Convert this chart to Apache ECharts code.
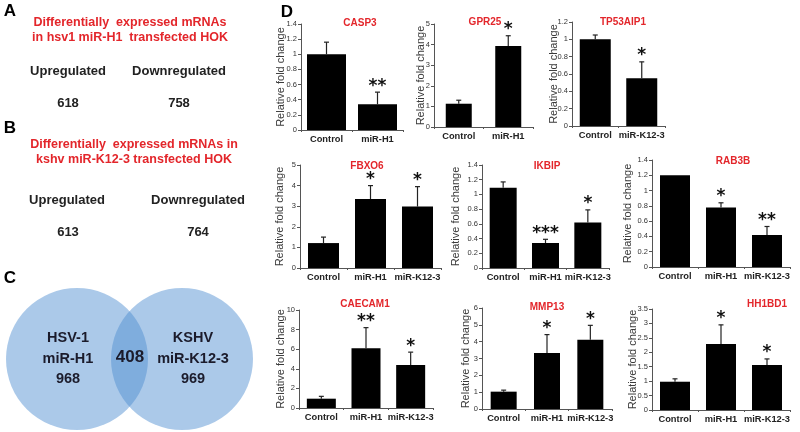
<!DOCTYPE html>
<html lang="en">
<head>
<meta charset="UTF-8">
<title>Differentially expressed mRNAs</title>
<script src="https://cdnjs.cloudflare.com/ajax/libs/echarts/6.0.0/echarts.min.js"></script>
<style>
    html, body { margin: 0; padding: 0; background: #fff; }
    #main { width: 800px; height: 432px; }
</style>
</head>
<body>
<div id="main"></div>
<script type="text/javascript">
    // A / B: number of differentially expressed mRNAs (up, down)
    const hsvCounts = [618, 758];
    const kshvCounts = [613, 764];
    // C: venn (HSV-1 only label, shared, KSHV label)
    const vennCounts = [968, 408, 969];

    // D: qPCR fold changes
    const genes = ['CASP3', 'GPR25', 'TP53AIP1', 'FBXO6', 'IKBIP', 'RAB3B', 'CAECAM1', 'MMP13', 'HH1BD1'];
    const groups = [
        ['Control', 'miR-H1'],
        ['Control', 'miR-H1'],
        ['Control', 'miR-K12-3'],
        ['Control', 'miR-H1', 'miR-K12-3'],
        ['Control', 'miR-H1', 'miR-K12-3'],
        ['Control', 'miR-H1', 'miR-K12-3'],
        ['Control', 'miR-H1', 'miR-K12-3'],
        ['Control', 'miR-H1', 'miR-K12-3'],
        ['Control', 'miR-H1', 'miR-K12-3']
    ];
    const foldMeans = [
        [1.0, 0.34],
        [1.13, 3.93],
        [1.0, 0.55],
        [1.21, 3.35, 2.98],
        [1.09, 0.34, 0.62],
        [1.2, 0.78, 0.42],
        [0.95, 6.1, 4.4],
        [1.03, 3.33, 4.12],
        [0.98, 2.29, 1.56]
    ];
    const foldErrors = [
        [0.16, 0.16],
        [0.17, 0.5],
        [0.05, 0.19],
        [0.29, 0.65, 0.97],
        [0.08, 0.05, 0.17],
        [0, 0.06, 0.11],
        [0.24, 2.1, 1.3],
        [0.09, 1.09, 0.85],
        [0.1, 0.66, 0.21]
    ];
    const signif = [
        ['', '**'],
        ['', '*'],
        ['', '*'],
        ['', '*', '*'],
        ['', '***', '*'],
        ['', '*', '**'],
        ['', '**', '*'],
        ['', '*', '*'],
        ['', '*', '*']
    ];
    const yMax = [1.4, 5, 1.2, 5, 1.4, 1.4, 10, 6, 3.5];
    const yStep = [0.2, 1, 0.2, 1, 0.2, 0.2, 2, 1, 0.5];

    // left, top, width, height, nameGap, barWidth, titleX, titleY
    const boxes = [
        [301, 24, 102, 106, 15, 39, 360, 24],
        [434, 24, 99, 103, 8, 26, 485, 23],
        [572, 22, 93, 104, 13, 31, 623, 23],
        [300, 165, 141, 103, 15, 31, 367, 167],
        [482, 165, 127, 103, 21, 27, 547, 167],
        [652, 160, 138, 107, 19, 30, 733, 162],
        [299, 310, 134, 98, 13, 29, 365, 305],
        [482, 308, 130, 101, 11, 26, 547, 308],
        [652, 309, 138, 101, 14, 30, 767, 305]
    ];

    const FONT = '"Liberation Sans", Arial, sans-serif';
    const RED = '#e3262b';
    const axisColor = '#555';

    const myChart = echarts.init(document.getElementById('main'));

    const grid = [], xAxis = [], yAxis = [], series = [], title = [];

    genes.forEach((gene, i) => {
        const b = boxes[i];
        grid.push({ left: b[0], top: b[1], width: b[2], height: b[3] });
        title.push({
            text: gene, left: b[6], top: b[7] - 6, textAlign: 'center', padding: 0,
            textStyle: { fontSize: 10, fontWeight: 'bold', color: RED, fontFamily: FONT }
        });
        xAxis.push({
            type: 'category', gridIndex: i, data: groups[i],
            axisLine: { show: true, lineStyle: { color: axisColor, width: 1 } },
            axisTick: { show: true, length: 2, lineStyle: { color: axisColor } },
            axisLabel: { interval: 0, margin: 5, fontSize: 9.3, fontWeight: 'bold', color: '#222', fontFamily: FONT,
                hideOverlap: false },
            splitLine: { show: false }
        });
        yAxis.push({
            type: 'value', gridIndex: i, min: 0, max: yMax[i], interval: yStep[i],
            name: 'Relative fold change', nameLocation: 'middle', nameGap: b[4], nameRotate: 90,
            nameMoveOverlap: false,
            nameTextStyle: { fontSize: 11, color: '#3a3a3a', fontFamily: FONT },
            axisLine: { show: true, lineStyle: { color: axisColor, width: 1 } },
            axisTick: { show: true, length: 3, lineStyle: { color: axisColor } },
            axisLabel: { fontSize: 7.5, color: '#333', margin: 4, fontFamily: FONT },
            splitLine: { show: false }
        });
        series.push({
            type: 'bar', xAxisIndex: i, yAxisIndex: i,
            data: foldMeans[i], barWidth: b[5],
            itemStyle: { color: '#000' },
            silent: true
        });
        // error bars + significance stars
        series.push({
            type: 'custom', xAxisIndex: i, yAxisIndex: i, clip: false, z: 3,
            data: foldMeans[i].map((m, j) => [j, m, foldErrors[i][j]]),
            renderItem: (params, api) => {
                const j = api.value(0), m = api.value(1), e = api.value(2);
                const base = api.coord([j, m]);
                const top = api.coord([j, m + e]);
                const children = [];
                if (e > 0) {
                    children.push({ type: 'line', shape: { x1: base[0], y1: base[1], x2: top[0], y2: top[1] },
                        style: { stroke: '#222', lineWidth: 1.2 } });
                    children.push({ type: 'line', shape: { x1: top[0] - 2.5, y1: top[1], x2: top[0] + 2.5, y2: top[1] },
                        style: { stroke: '#222', lineWidth: 1.2 } });
                }
                const s = signif[i][params.dataIndex];
                if (s) {
                    children.push({ type: 'text', x: top[0], y: top[1] - 6,
                        style: { text: s, fill: '#111', align: 'center', verticalAlign: 'middle',
                            font: 'bold 17px "DejaVu Sans", sans-serif' } });
                }
                return { type: 'group', children: children };
            }
        });
    });

    // panels A, B, C drawn as graphic elements
    function txt(x, y, s, size, color, weight) {
        return {
            type: 'text', x: x, y: y,
            style: { text: s, fill: color, align: 'center', verticalAlign: 'middle',
                font: (weight || 'bold') + ' ' + size + 'px ' + FONT }
        };
    }

    const graphic = [
        txt(287, 12, 'D', 17, '#000'),
        txt(10, 11, 'A', 17, '#000'),
        txt(130, 23, 'Differentially  expressed mRNAs', 12.5, RED),
        txt(130, 38, 'in hsv1 miR-H1  transfected HOK', 12.5, RED),
        txt(68, 71, 'Upregulated', 13, '#222'),
        txt(179, 71, 'Downregulated', 13, '#222'),
        txt(68, 103, String(hsvCounts[0]), 13, '#222'),
        txt(179, 103, String(hsvCounts[1]), 13, '#222'),

        txt(10, 128, 'B', 17, '#000'),
        txt(134, 145, 'Differentially  expressed mRNAs in', 12.5, RED),
        txt(134, 160, 'kshv miR-K12-3 transfected HOK', 12.5, RED),
        txt(67, 200, 'Upregulated', 13, '#222'),
        txt(198, 200, 'Downregulated', 13, '#222'),
        txt(68, 232, String(kshvCounts[0]), 13, '#222'),
        txt(198, 232, String(kshvCounts[1]), 13, '#222'),

        txt(10, 278, 'C', 17, '#000'),
        { type: 'circle', shape: { cx: 77, cy: 359, r: 71 }, style: { fill: 'rgba(80,142,210,0.48)' } },
        { type: 'circle', shape: { cx: 182, cy: 359, r: 71 }, style: { fill: 'rgba(80,142,210,0.48)' } },
        txt(68, 338, 'HSV-1', 14.5, '#1b1b2b'),
        txt(68, 359, 'miR-H1', 14.5, '#1b1b2b'),
        txt(68, 379, String(vennCounts[0]), 14.5, '#1b1b2b'),
        txt(130, 357, String(vennCounts[1]), 17, '#1b1b2b'),
        txt(193, 338, 'KSHV', 14.5, '#1b1b2b'),
        txt(193, 359, 'miR-K12-3', 14.5, '#1b1b2b'),
        txt(193, 379, String(vennCounts[2]), 14.5, '#1b1b2b')
    ];

    myChart.setOption({
        animation: false,
        backgroundColor: '#fff',
        title: title,
        grid: grid,
        xAxis: xAxis,
        yAxis: yAxis,
        series: series,
        graphic: graphic
    });
</script>
</body>
</html>
